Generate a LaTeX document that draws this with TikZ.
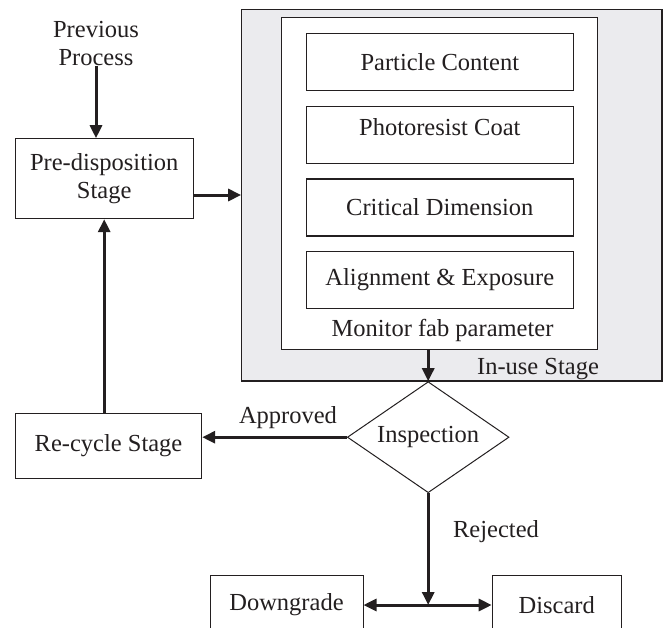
\documentclass[tikz,border=0pt]{standalone}
\usepackage{fontspec}
\setmainfont{Liberation Serif}
\usetikzlibrary{arrows.meta,shapes.geometric}
\definecolor{ink}{HTML}{231F20}
\definecolor{panel}{HTML}{EBEBEE}
\tikzset{
  every node/.style={font=\fontsize{24.5}{28}\selectfont, text=ink},
  box/.style={draw=ink, line width=1pt, fill=white, inner sep=0pt, align=center},
  lbl/.style={inner sep=0pt, align=center},
  arr/.style={draw=ink, line width=3pt, -{Triangle[length=13pt,width=12pt]}},
  dbl/.style={draw=ink, line width=3pt, {Triangle[length=13pt,width=12pt]}-{Triangle[length=13pt,width=12pt]}},
}
\begin{document}
\begin{tikzpicture}[x=1pt,y=1pt]
\useasboundingbox (0,0) rectangle (669,-627);
\begin{scope}
\clip (0,0) rectangle (669,-627);
% previous process
\node[lbl] (prev) at (96,-44) {Previous\\Process};
\node[box, minimum width=178, minimum height=80] (pre) at (104.2,-178.7) {Pre-disposition\\Stage};
% in-use stage
\node[draw=ink, line width=1.1pt, fill=panel, minimum width=420.3, minimum height=371.7, inner sep=0pt] (gray) at (451.85,-195.15) {};
\node[box, minimum width=316, minimum height=331.7] (white) at (439.7,-183.15) {};
\node[box, minimum width=267, minimum height=56.7] (b1) at (439.8,-61.7) {Particle Content};
\node[box, minimum width=267, minimum height=56.7, text depth=16pt] (b2) at (439.8,-134.7) {Photoresist Coat};
\node[box, minimum width=267, minimum height=56.7, line width=1.5pt] (b3) at (439.8,-207.5) {Critical Dimension};
\node[box, minimum width=267, minimum height=56.7] (b4) at (439.8,-280) {Alignment \& Exposure};
\node[lbl] (mon) at (442.5,-330) {Monitor fab parameter};
\node[lbl] (inuse) at (538,-369) {In-use Stage};
% inspection
\node[draw=ink, line width=1pt, fill=white, shape=diamond, aspect=1.46, inner sep=0pt, minimum width=161.7, minimum height=111] (insp) at (428.2,-437.2) {Inspection};
\node[box, minimum width=186.4, minimum height=65] (rec) at (108.5,-445.8) {Re-cycle Stage};
\node[box, minimum width=153, minimum height=60] (down) at (286.5,-605) {Downgrade};
\node[box, minimum width=129, minimum height=60] (disc) at (556.7,-605) {Discard};
\node[lbl] (appr) at (288,-418) {Approved};
\node[lbl] (rej) at (496,-531.7) {Rejected};
\coordinate (junc) at (insp.south |- down.east);
% connectors
\draw[arr] (prev.south) -- (prev.south |- pre.north);
\draw[arr] (pre.east |- 0,-195) -- (gray.west |- 0,-195);
\draw[arr] (insp.north |- white.south) -- (insp.north);
\draw[arr] (insp.west) -- (rec.east |- insp.west);
\draw[arr] (rec.north -| pre.south) -- (pre.south);
\draw[arr] (insp.south) -- (junc);
\draw[dbl] (down.east) -- (disc.west);
\end{scope}
\end{tikzpicture}
\end{document}
